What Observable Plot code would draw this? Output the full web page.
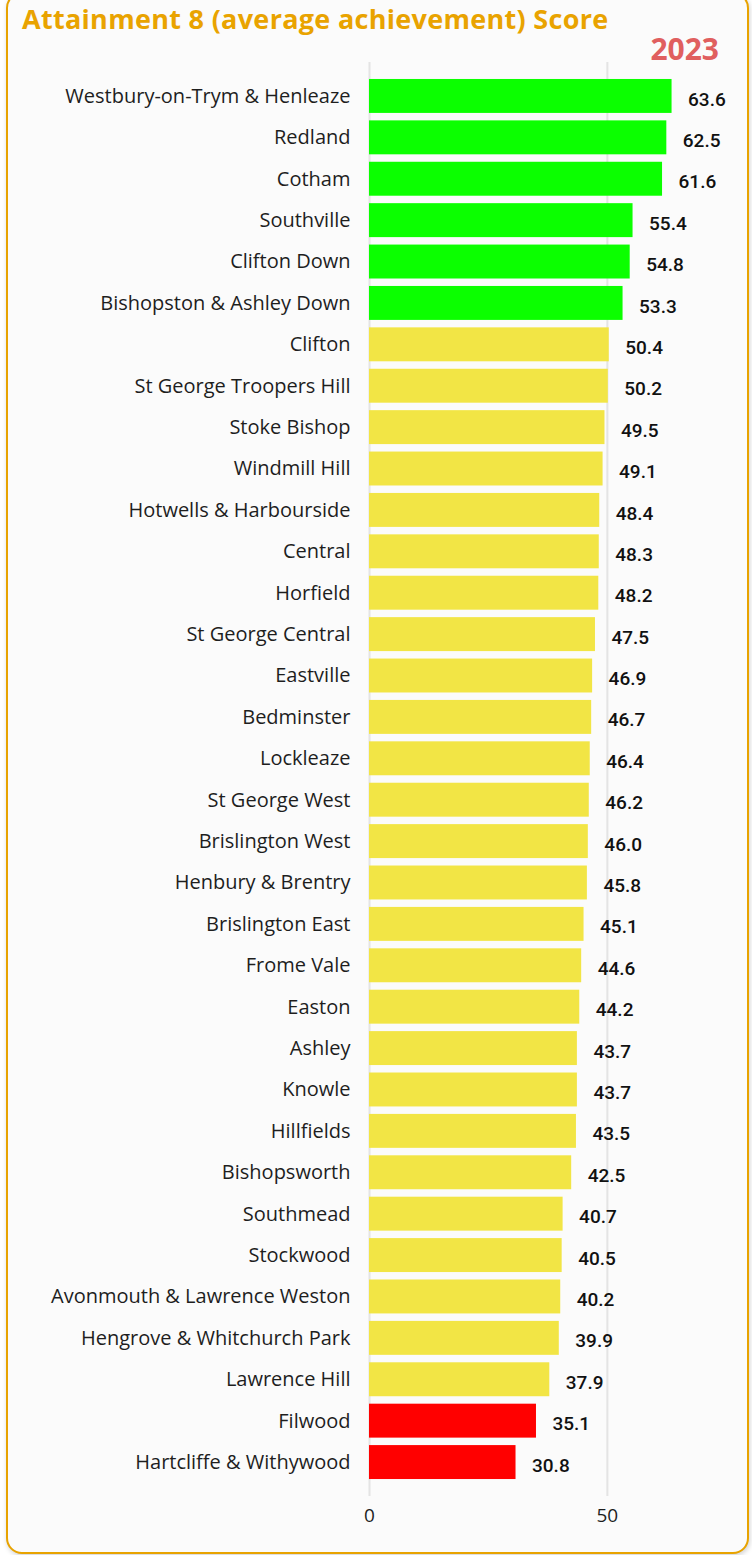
<!DOCTYPE html>
<html>
<head>
<meta charset="utf-8">
<script src="https://cdn.jsdelivr.net/npm/d3@7"></script>
<script src="https://cdn.jsdelivr.net/npm/@observablehq/plot@0.6"></script>
<style>
  html, body { margin: 0; padding: 0; background: #ffffff; width: 752px; height: 1555px; overflow: hidden; }
  #card {
    position: absolute; left: 6px; top: -8px; width: 739px; height: 1558px;
    border: 2px solid #e8a300; border-radius: 16px; background: #fbfbfb;
    box-shadow: 1px 2px 5px rgba(0,0,0,0.18);
  }
  #title {
    position: absolute; left: 22px; top: 5px; margin: 0; line-height: 1;
    font-family: "Open Sans", sans-serif; font-weight: 700; font-size: 27px;
    color: #e9a300; white-space: nowrap; letter-spacing: 0.3px;
  }
  #year {
    position: absolute; right: 33px; top: 34px; line-height: 1;
    font-family: "Open Sans", sans-serif; font-weight: 700; font-size: 30px;
    color: #e05f5f;
  }
  #chart { position: absolute; left: 0; top: 0; }
</style>
</head>
<body>
<div id="card"></div>
<div id="title">Attainment 8 (average achievement) Score</div>
<div id="year">2023</div>
<div id="chart"></div>
<script>
const wards = [
  "Westbury-on-Trym & Henleaze", "Redland", "Cotham", "Southville", "Clifton Down",
  "Bishopston & Ashley Down", "Clifton", "St George Troopers Hill", "Stoke Bishop",
  "Windmill Hill", "Hotwells & Harbourside", "Central", "Horfield", "St George Central",
  "Eastville", "Bedminster", "Lockleaze", "St George West", "Brislington West",
  "Henbury & Brentry", "Brislington East", "Frome Vale", "Easton", "Ashley", "Knowle",
  "Hillfields", "Bishopsworth", "Southmead", "Stockwood", "Avonmouth & Lawrence Weston",
  "Hengrove & Whitchurch Park", "Lawrence Hill", "Filwood", "Hartcliffe & Withywood"
];
const scores = [
  63.6, 62.5, 61.6, 55.4, 54.8, 53.3, 50.4, 50.2, 49.5, 49.1, 48.4, 48.3, 48.2, 47.5,
  46.9, 46.7, 46.4, 46.2, 46.0, 45.8, 45.1, 44.6, 44.2, 43.7, 43.7, 43.5, 42.5, 40.7,
  40.5, 40.2, 39.9, 37.9, 35.1, 30.8
];
const groups = [
  "high", "high", "high", "high", "high", "high",
  "mid", "mid", "mid", "mid", "mid", "mid", "mid", "mid", "mid", "mid", "mid", "mid",
  "mid", "mid", "mid", "mid", "mid", "mid", "mid", "mid", "mid", "mid", "mid", "mid",
  "mid", "mid", "low", "low"
];
const xTicks = [0, 50];

const data = wards.map((w, i) => ({ward: w, score: scores[i], group: groups[i]}));

const chart = Plot.plot({
  width: 752,
  height: 1540,
  marginLeft: 369,
  marginRight: 50,
  marginTop: 62,
  marginBottom: 44,
  style: { background: "transparent", fontFamily: "Open Sans, sans-serif", color: "#1a1a1a" },
  x: { domain: [0, 70], ticks: xTicks, label: null },
  y: { domain: wards, paddingInner: 0.18, paddingOuter: 0.41, round: false, label: null },
  color: { domain: ["high", "mid", "low"], range: ["#0bff00", "#f2e545", "#ff0000"] },
  marks: [
    Plot.ruleX(xTicks, { stroke: "#e4e4e4", strokeWidth: 2, strokeOpacity: 1 }),
    Plot.barX(data, { x: "score", y: "ward", fill: "group" }),
    Plot.text(data, {
      x: "score", y: "ward", text: d => d.score.toFixed(1),
      textAnchor: "start", dx: 16, dy: 3,
      fontFamily: "Roboto, sans-serif", fontWeight: 500, fontSize: 19, fill: "#111"
    }),
    Plot.axisY({ tickSize: 0, tickPadding: 19, fontSize: 20, label: null, fill: "#1e1e1e" }),
    Plot.axisX({ ticks: xTicks, tickSize: 0, tickPadding: 12, fontSize: 19, label: null, fill: "#1e1e1e" })
  ]
});
document.getElementById("chart").appendChild(chart);
</script>
</body>
</html>
